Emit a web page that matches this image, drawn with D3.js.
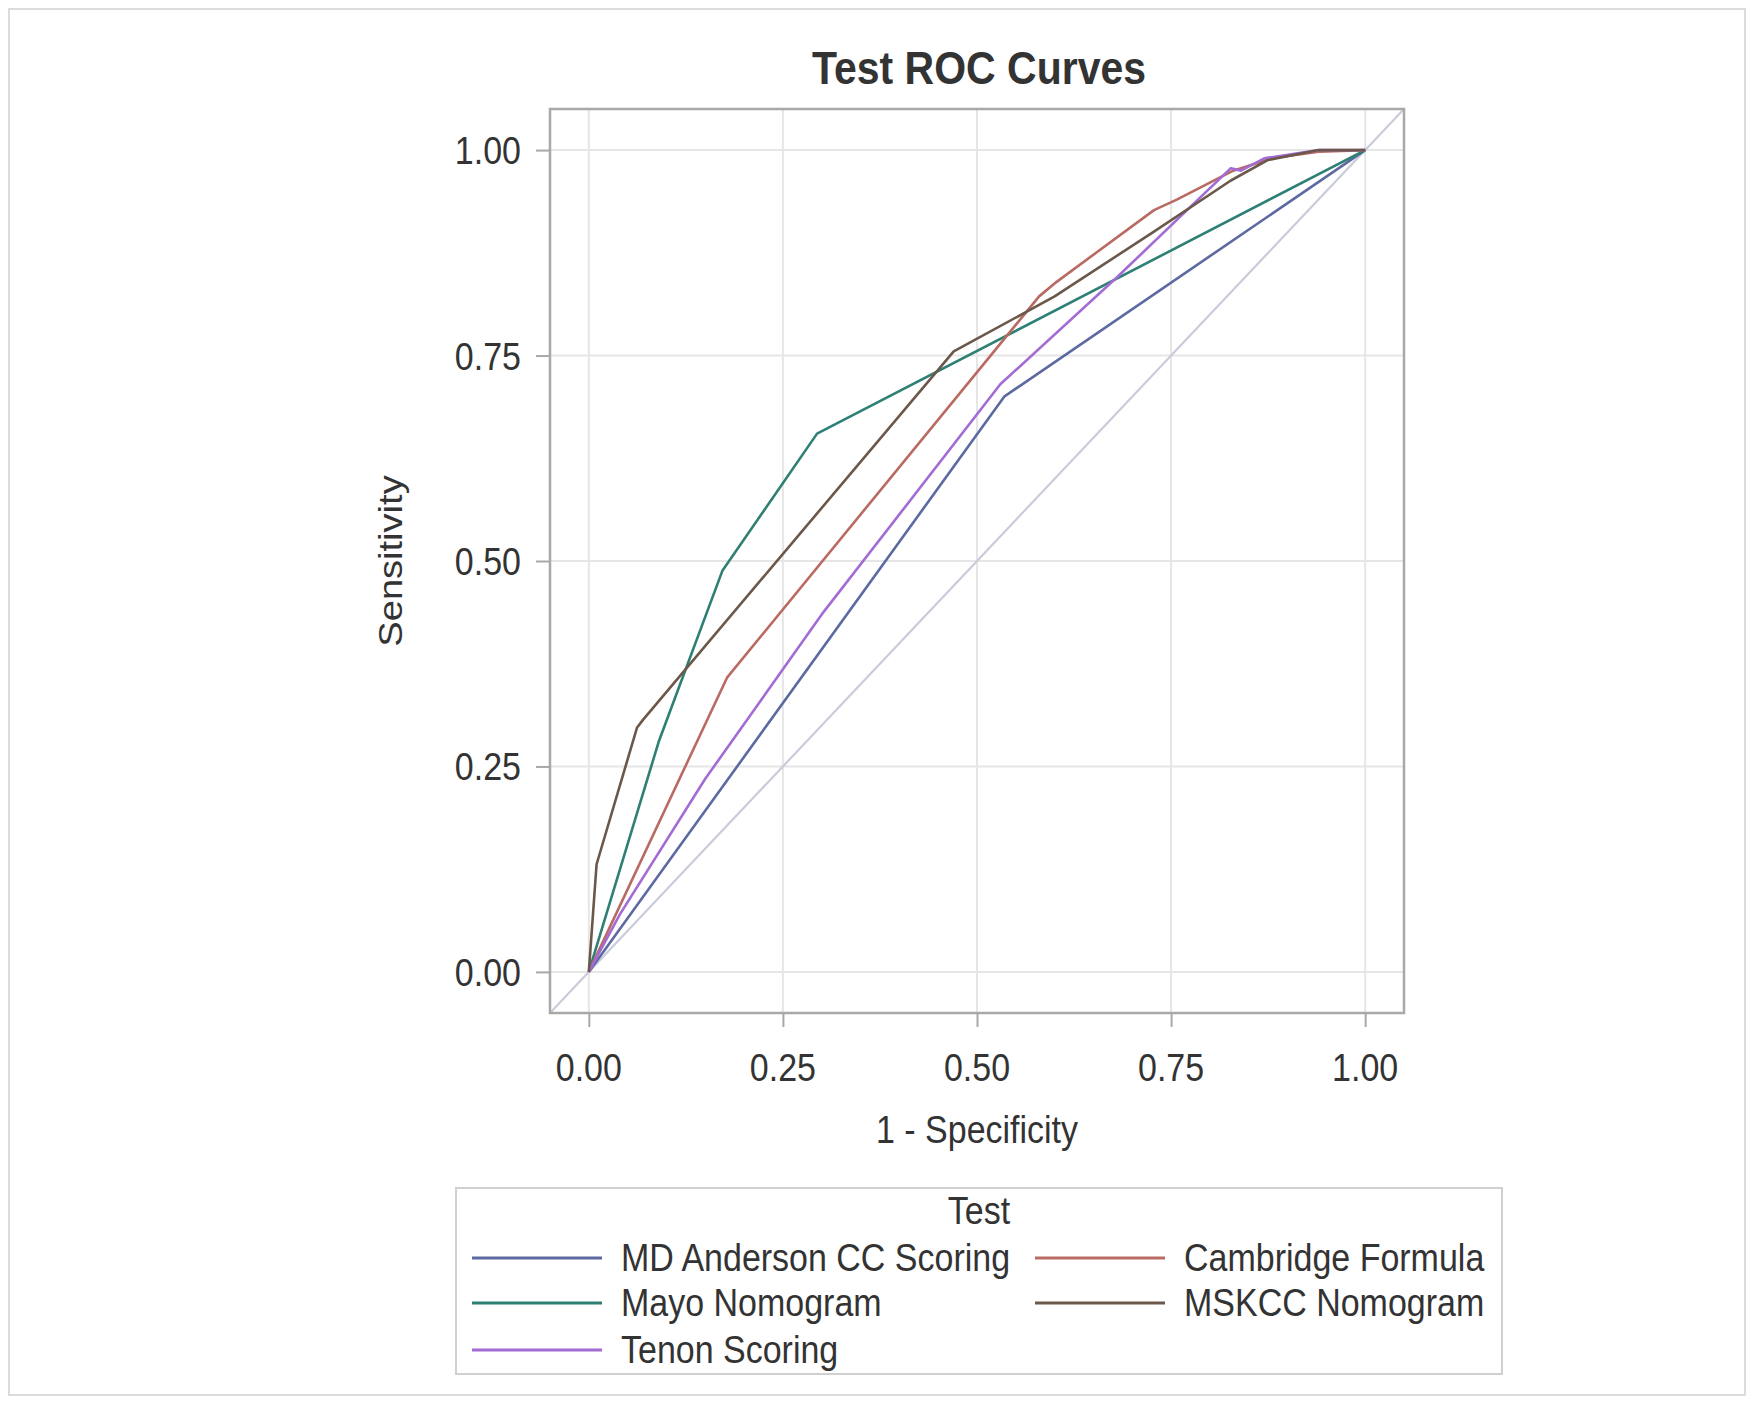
<!DOCTYPE html>
<html>
<head>
<meta charset="utf-8">
<script src="https://cdn.jsdelivr.net/npm/d3@7"></script>
<style>
  body { margin: 0; background: #fff; }
  text { font-family: "Liberation Sans", Arial, sans-serif; fill: #333; }
</style>
</head>
<body>
<div id="chart"></div>
<script>
// tick values
const xTicks = [0, 0.25, 0.5, 0.75, 1]
const yTicks = [0, 0.25, 0.5, 0.75, 1]

// series names, in legend order
const seriesNames = ['MD Anderson CC Scoring', 'Cambridge Formula', 'Mayo Nomogram', 'MSKCC Nomogram', 'Tenon Scoring']
const seriesColors = ['#5d6aa2', '#b96a62', '#2e7f74', '#6b584b', '#a36cd4']

// ROC points [1 - specificity, sensitivity]
const mdAnderson = [[0, 0], [0.535, 0.70], [1, 1]]
const cambridge = [[0, 0], [0.178, 0.358], [0.58, 0.822], [0.603, 0.84], [0.728, 0.927], [0.758, 0.94],
  [0.83, 0.975], [0.88, 0.99], [0.94, 0.998], [1, 1]]
const mayo = [[0, 0], [0.09, 0.28], [0.172, 0.488], [0.294, 0.655], [1, 1]]
const mskcc = [[0, 0], [0.01, 0.131], [0.062, 0.297], [0.07, 0.307], [0.47, 0.755], [0.6, 0.822],
  [0.725, 0.899], [0.827, 0.963], [0.875, 0.988], [0.94, 1], [1, 1]]
const tenon = [[0, 0], [0.04, 0.07], [0.15, 0.235], [0.3, 0.435], [0.53, 0.715], [0.68, 0.845],
  [0.827, 0.978], [0.84, 0.975], [0.87, 0.99], [0.94, 1], [1, 1]]

const seriesData = [mdAnderson, cambridge, mayo, mskcc, tenon]
// draw order: the legend order but MD Anderson first
const drawOrder = [0, 2, 1, 4, 3]

let width = 1754,
  height = 1402

const stretch = 1.12

let svg = d3.select('#chart')
  .append('svg')
  .attr('width', width)
  .attr('height', height)

svg.append('rect')
  .attr('x', 9).attr('y', 9)
  .attr('width', width - 18).attr('height', height - 16)
  .attr('fill', 'none')
  .attr('stroke', '#dcdcdc')
  .attr('stroke-width', 2)

let x = d3.scaleLinear().domain([-0.05, 1.05]).range([550, 1404])
let y = d3.scaleLinear().domain([-0.05, 1.05]).range([1013, 109])

// stretched text helper
function label(px, py, str, size, anchor, opts) {
  opts = opts || {}
  let g = svg.append('g')
    .attr('transform', `translate(${px},${py}) scale(1,${stretch})` + (opts.rotate ? ` rotate(${opts.rotate})` : ''))
  g.append('text')
    .attr('text-anchor', anchor)
    .style('font-size', size + 'px')
    .style('font-weight', opts.bold ? 'bold' : 'normal')
    .text(str)
  return g
}

// grid
svg.append('g')
  .selectAll('line')
  .data(xTicks)
  .enter()
  .append('line')
  .attr('x1', d => x(d)).attr('x2', d => x(d))
  .attr('y1', y(-0.05)).attr('y2', y(1.05))
  .attr('stroke', '#e6e6e6')
  .attr('stroke-width', 2)

svg.append('g')
  .selectAll('line')
  .data(yTicks)
  .enter()
  .append('line')
  .attr('y1', d => y(d)).attr('y2', d => y(d))
  .attr('x1', x(-0.05)).attr('x2', x(1.05))
  .attr('stroke', '#e6e6e6')
  .attr('stroke-width', 2)

// diagonal reference
svg.append('line')
  .attr('x1', x(-0.05)).attr('y1', y(-0.05))
  .attr('x2', x(1.05)).attr('y2', y(1.05))
  .attr('stroke', '#c9ccda')
  .attr('stroke-width', 2.2)

// curves
let line = d3.line()
  .x(d => x(d[0]))
  .y(d => y(d[1]))

svg.append('g')
  .selectAll('path')
  .data(drawOrder)
  .enter()
  .append('path')
  .attr('d', i => line(seriesData[i]))
  .attr('fill', 'none')
  .attr('stroke', i => seriesColors[i])
  .attr('stroke-width', 2.6)
  .attr('stroke-linejoin', 'round')

// frame
svg.append('rect')
  .attr('x', x(-0.05)).attr('y', y(1.05))
  .attr('width', x(1.05) - x(-0.05))
  .attr('height', y(-0.05) - y(1.05))
  .attr('fill', 'none')
  .attr('stroke', '#a8a8a8')
  .attr('stroke-width', 2.5)

// axes
let xAxis = svg.append('g')
  .attr('transform', `translate(0,${y(-0.05)})`)
  .call(d3.axisBottom(x).tickValues(xTicks).tickSize(14).tickFormat(''))
let yAxis = svg.append('g')
  .attr('transform', `translate(${x(-0.05)},0)`)
  .call(d3.axisLeft(y).tickValues(yTicks).tickSize(14).tickFormat(''))
;[xAxis, yAxis].forEach(a => {
  a.select('.domain').remove()
  a.selectAll('.tick line').attr('stroke', '#a8a8a8').attr('stroke-width', 2)
})

xTicks.forEach(t => label(x(t), 1081, d3.format('.2f')(t), 34, 'middle'))
yTicks.forEach(t => label(521, y(t) + 14, d3.format('.2f')(t), 34, 'end'))

// titles
label(979, 84, 'Test ROC Curves', 41, 'middle', { bold: true })
label(x(0.5), 1143, '1 - Specificity', 34, 'middle')
label(402, y(0.5), 'Sensitivity', 34, 'middle', { rotate: -90 })

// legend
svg.append('rect')
  .attr('x', 456).attr('y', 1188)
  .attr('width', 1046).attr('height', 186)
  .attr('fill', 'none')
  .attr('stroke', '#d0d0d0')
  .attr('stroke-width', 2)

label(979, 1224, 'Test', 34, 'middle')

let colX = [472, 1035]
let rowY = [1258, 1303, 1350]
seriesNames.forEach((name, i) => {
  let lx = colX[i % 2]
  let ly = rowY[Math.floor(i / 2)]
  svg.append('line')
    .attr('x1', lx).attr('x2', lx + 130)
    .attr('y1', ly).attr('y2', ly)
    .attr('stroke', seriesColors[i])
    .attr('stroke-width', 3.2)
  label(lx + 149, ly + 12.5, name, 34, 'start')
})
</script>
</body>
</html>
